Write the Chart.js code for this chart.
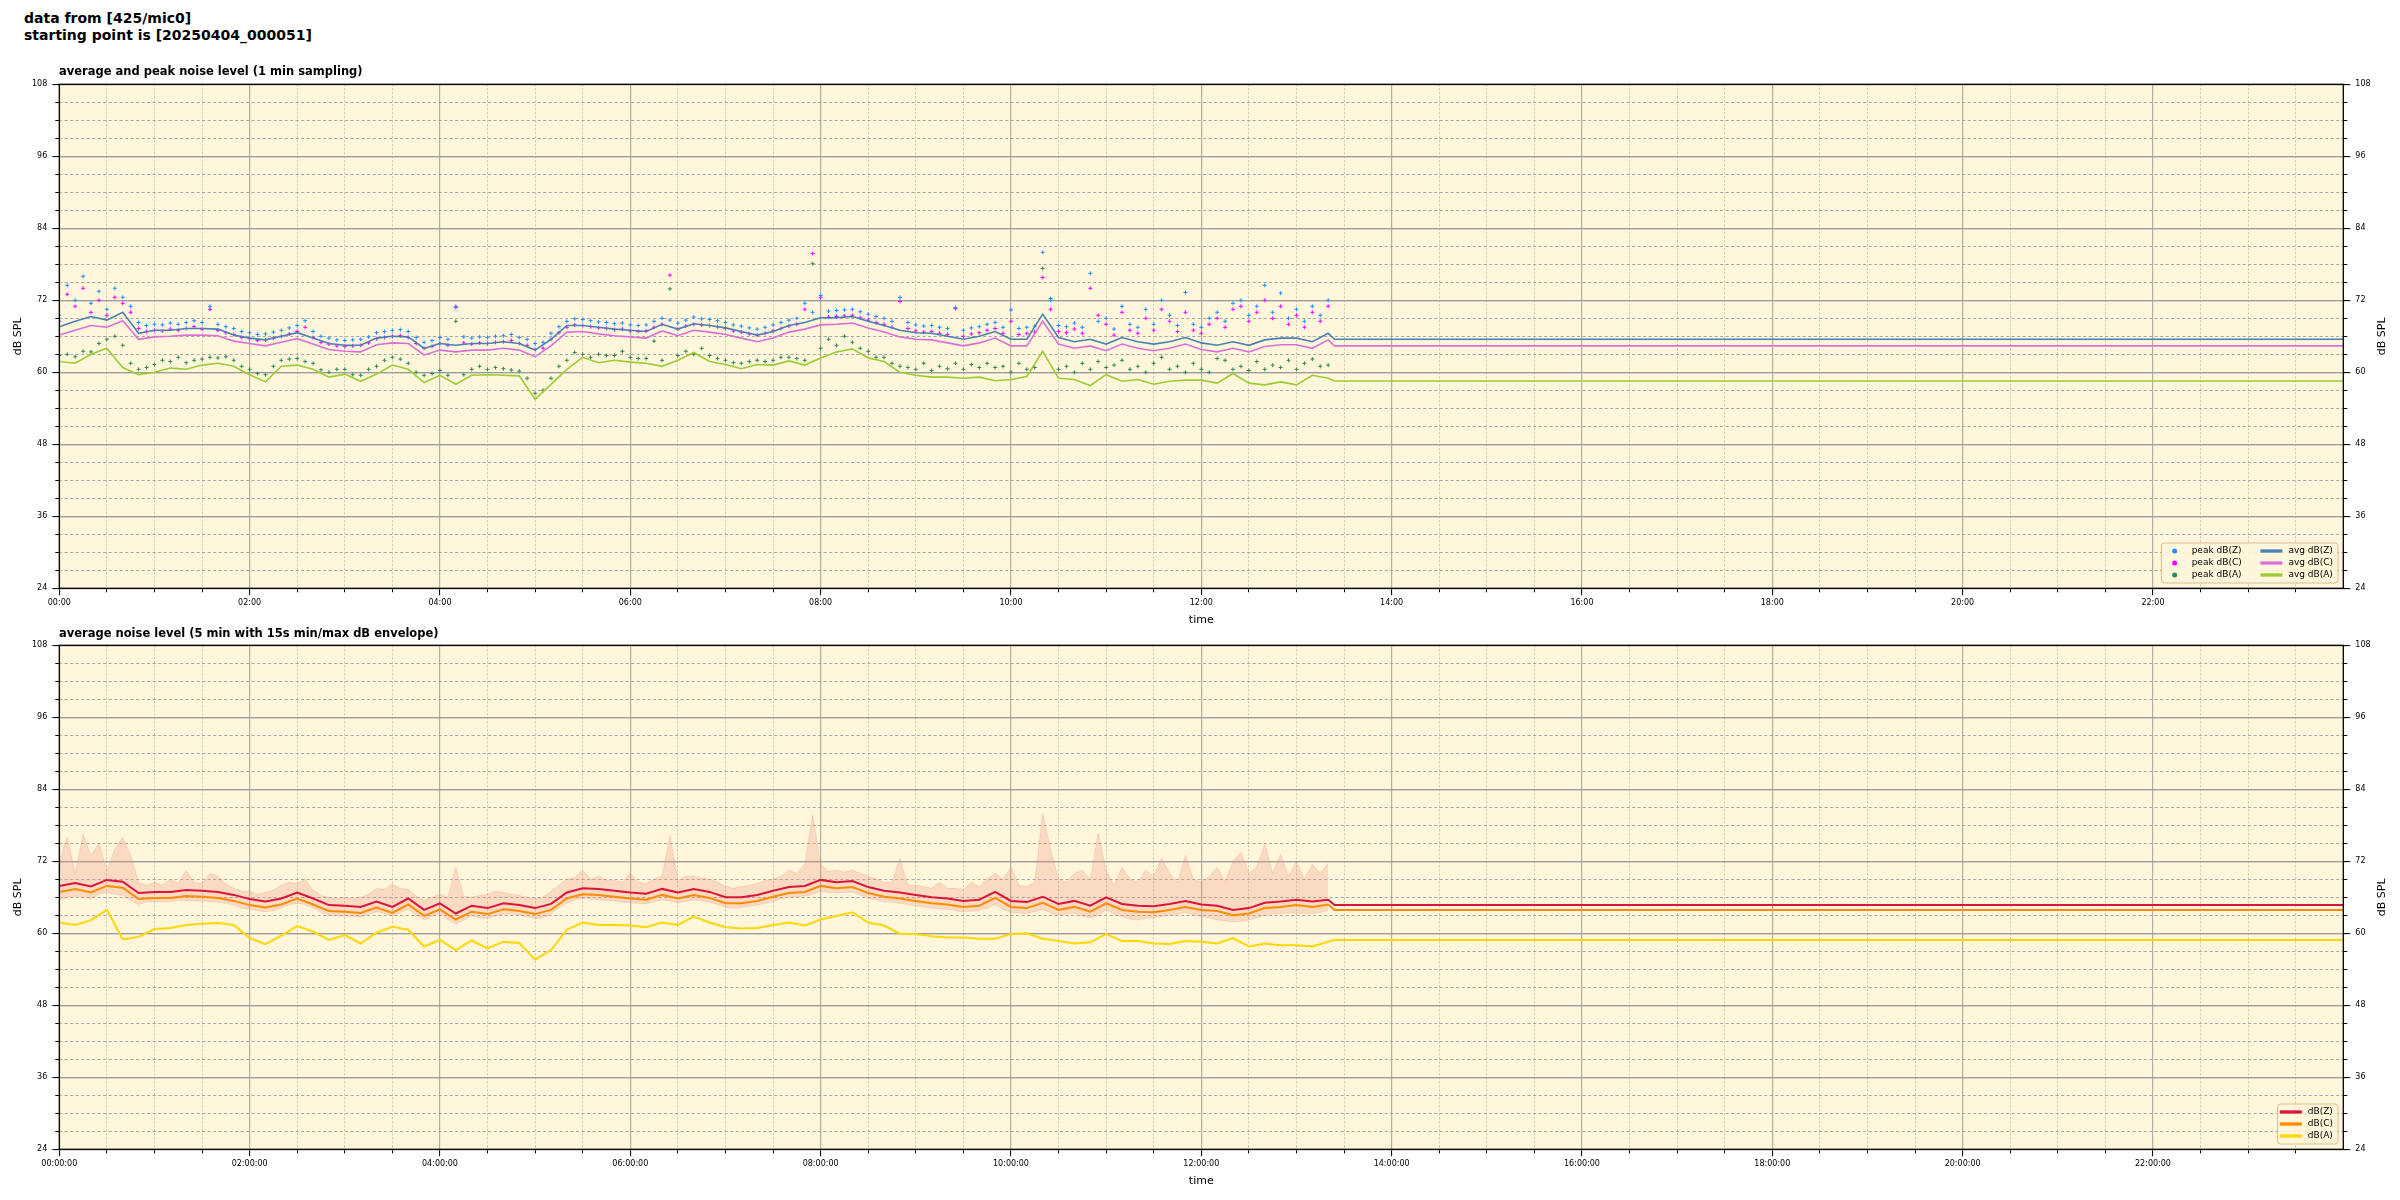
<!DOCTYPE html>
<html>
<head>
<meta charset="utf-8">
<script src="https://cdn.jsdelivr.net/npm/chart.js@4.4.1/dist/chart.umd.min.js"></script>
<style>
  html, body { margin: 0; padding: 0; background: #fff; }
  body { width: 2400px; height: 1200px; position: relative; overflow: hidden; font-family: "DejaVu Sans", sans-serif; }
  canvas { position: absolute; left: 0; }
  .title { position: absolute; font-weight: bold; color: #000; white-space: nowrap; z-index: 2; }
  #sup { left: 24px; top: 10px; font-size: 14px; line-height: 16.8px; }
  .sub { left: 59px; font-size: 11.5px; line-height: 14px; }
</style>
</head>
<body>
<div id="sup" class="title">data from [425/mic0]<br>starting point is [20250404_000051]</div>
<div class="title sub" style="top:64px">average and peak noise level (1 min sampling)</div>
<div class="title sub" style="top:626px">average noise level (5 min with 15s min/max dB envelope)</div>
<canvas id="topChart" width="2400" height="570" style="top:60px"></canvas>
<canvas id="bottomChart" width="2400" height="570" style="top:630px"></canvas>
<script>
"use strict";

// sample spacing in minutes, tail = logger keeps repeating its last value
var avgStep = 10;
var peakStep = 5;
var envStep = 5;
var tailStart = 13.4;
var dayEnd = 24;

var hourTicks = [0, 2, 4, 6, 8, 10, 12, 14, 16, 18, 20, 22];
var dbTicks = [24, 36, 48, 60, 72, 84, 96, 108];

// --- top panel: 1 min averages and peaks ---
var avgZ = [
    67.6, 68.5, 69.3, 68.7, 70.0, 66.5,
    67.0, 67.0, 67.3, 67.3, 67.2, 66.2,
    65.7, 65.4, 66.0, 66.6, 65.7, 64.8,
    64.5, 64.5, 65.7, 66.0, 65.9, 64.0,
    64.8, 64.5, 64.8, 64.8, 65.1, 64.8,
    63.7, 65.5, 67.8, 67.8, 67.5, 67.2,
    67.0, 66.8, 68.0, 67.2, 68.1, 67.8,
    67.4, 66.8, 66.2, 66.8, 67.8, 68.3,
    69.1, 69.1, 69.3, 68.5, 67.8, 67.0,
    66.6, 66.5, 66.0, 65.5, 66.0, 66.8,
    65.5, 65.5, 69.7, 65.8, 65.1, 65.5,
    64.7, 65.8, 65.1, 64.7, 65.1, 65.8,
    64.9, 64.5, 65.1, 64.5, 65.4, 65.7,
    65.7, 65.1, 66.5
];
var avgC = [
    66.2, 67.0, 67.8, 67.5, 68.6, 65.5,
    65.9, 66.0, 66.2, 66.2, 66.1, 65.2,
    64.8, 64.4, 65.0, 65.6, 64.7, 63.8,
    63.5, 63.4, 64.6, 64.9, 64.8, 62.9,
    63.7, 63.4, 63.7, 63.7, 64.0, 63.7,
    62.6, 64.4, 66.7, 66.8, 66.4, 66.1,
    65.9, 65.7, 66.9, 66.1, 67.0, 66.7,
    66.3, 65.7, 65.1, 65.7, 66.7, 67.2,
    67.9, 68.0, 68.2, 67.4, 66.7, 65.9,
    65.5, 65.4, 64.9, 64.4, 64.9, 65.7,
    64.4, 64.4, 68.5, 64.7, 64.0, 64.4,
    63.6, 64.7, 64.0, 63.6, 64.0, 64.7,
    63.8, 63.4, 64.0, 63.4, 64.3, 64.6,
    64.6, 64.0, 65.4
];
var avgA = [
    61.8, 61.5, 63.0, 64.0, 60.8, 59.6,
    60.0, 60.7, 60.5, 61.2, 61.5, 61.0,
    59.6, 58.4, 61.0, 61.2, 60.5, 59.2,
    59.7, 58.5, 59.7, 61.2, 60.5, 58.3,
    59.5, 58.0, 59.5, 59.6, 59.5, 59.4,
    55.5, 58.0, 60.5, 62.5, 61.6, 62.0,
    61.7, 61.5, 61.0, 62.0, 63.3, 61.8,
    61.3, 60.6, 61.3, 61.2, 61.9, 61.2,
    62.4, 63.4, 63.9, 62.4, 61.8, 60.0,
    59.5, 59.2, 59.2, 59.0, 59.2, 58.6,
    58.8, 59.3, 63.5, 59.0, 58.8, 57.8,
    59.6, 58.5, 58.8, 58.0, 58.5, 58.7,
    58.7, 58.2, 59.8, 58.2, 57.9, 58.4,
    57.9, 59.5, 59.0
];
var peakZ = [
    69.5, 74.5, 72.0, 76.0, 71.5, 73.5, 70.5, 74.0, 72.5, 71.0, 68.3, 67.8,
    68.0, 67.9, 68.2, 68.0, 68.3, 68.6, 68.3, 71.0, 68.0, 67.6, 67.3, 66.8,
    66.6, 66.3, 66.4, 66.7, 67.0, 67.4, 67.8, 68.6, 66.8, 66.0, 65.7, 65.4,
    65.3, 65.4, 65.5, 65.9, 66.6, 66.8, 67.0, 67.1, 66.8, 65.8, 65.0, 65.3,
    65.8, 65.5, 71.0, 65.9, 65.7, 65.9, 65.8, 66.0, 66.1, 66.3, 65.8, 65.5,
    64.8, 65.0, 66.5, 67.6, 68.5, 68.9, 68.8, 68.6, 68.4, 68.3, 68.1, 68.2,
    67.9, 67.8, 67.9, 68.5, 69.0, 68.7, 68.2, 68.7, 69.2, 68.9, 68.8, 68.6,
    68.3, 67.9, 67.7, 67.4, 67.2, 67.5, 67.9, 68.3, 68.7, 69.0, 71.5, 70.0,
    72.8, 70.2, 70.3, 70.4, 70.5, 70.1, 69.7, 69.3, 69.0, 68.5, 72.5, 68.3,
    67.9, 67.7, 67.8, 67.5, 67.3, 70.8, 67.0, 67.4, 67.6, 68.0, 68.3, 67.5,
    70.4, 67.3, 67.5, 67.7, 80.0, 72.0, 67.8, 67.6, 68.2, 67.5, 76.5, 68.5,
    69.0, 67.2, 71.0, 68.0, 67.5, 70.5, 68.0, 72.0, 69.5, 67.8, 73.3, 68.0,
    67.5, 69.0, 70.0, 68.5, 71.5, 72.0, 69.5, 71.0, 74.5, 70.0, 73.2, 69.0,
    70.5, 68.5, 71.0, 69.5, 72.0
];
var peakC = [
    68.5, 73.0, 71.0, 74.0, 70.0, 72.0, 69.5, 72.5, 71.5, 70.0, 67.3, 66.8,
    67.0, 66.9, 67.2, 67.0, 67.3, 67.6, 67.2, 70.5, 67.0, 66.6, 66.3, 65.8,
    65.6, 65.3, 65.4, 65.7, 66.0, 66.4, 66.8, 67.5, 65.8, 65.0, 64.7, 64.4,
    64.3, 64.4, 64.5, 64.9, 65.6, 65.8, 66.0, 66.1, 65.8, 64.8, 64.0, 64.3,
    64.8, 64.5, 70.8, 64.9, 64.7, 64.9, 64.8, 65.0, 65.1, 65.3, 64.8, 64.5,
    63.8, 64.0, 65.5, 66.6, 67.5, 67.9, 67.8, 67.6, 67.4, 67.3, 67.1, 67.2,
    66.9, 66.8, 66.9, 67.5, 68.0, 76.2, 67.2, 67.7, 68.0, 67.9, 67.8, 67.6,
    67.3, 66.9, 66.7, 66.4, 66.2, 66.5, 66.9, 67.3, 67.7, 68.0, 70.5, 79.8,
    72.5, 69.2, 69.3, 69.4, 69.5, 69.1, 68.7, 68.3, 68.0, 67.5, 71.8, 67.3,
    66.9, 66.7, 66.8, 66.5, 66.3, 70.6, 66.0, 66.4, 66.6, 67.0, 67.3, 66.5,
    68.5, 66.3, 66.5, 66.7, 75.8, 70.5, 66.8, 66.6, 67.2, 66.5, 74.0, 69.5,
    68.0, 66.2, 70.0, 67.0, 66.5, 69.0, 67.0, 70.5, 68.5, 66.8, 70.0, 67.0,
    66.5, 68.0, 69.0, 67.5, 70.5, 71.0, 68.5, 70.0, 72.0, 69.0, 71.0, 68.0,
    69.5, 67.5, 70.0, 68.5, 71.0
];
var peakA = [
    62.8, 63.0, 62.6, 63.5, 63.4, 64.8, 65.5, 66.0, 64.5, 61.5, 60.5, 60.8,
    61.3, 62.0, 61.8, 62.5, 61.6, 62.0, 62.2, 62.5, 62.4, 62.6, 62.0, 61.0,
    60.5, 59.8, 59.6, 61.0, 62.0, 62.2, 62.3, 61.8, 61.5, 60.4, 60.0, 60.5,
    60.5, 59.6, 59.5, 60.5, 61.0, 62.0, 62.5, 62.2, 61.5, 60.0, 59.5, 59.8,
    60.3, 59.5, 68.5, 59.6, 60.5, 61.0, 60.5, 60.8, 60.6, 60.4, 60.2, 59.0,
    56.5, 57.0, 59.0, 61.0, 62.0, 63.3, 63.0, 62.5, 63.0, 62.8, 62.8, 63.5,
    62.5, 62.3, 62.3, 65.2, 62.0, 73.9, 62.8, 63.5, 63.0, 64.0, 62.8, 62.3,
    62.0, 61.6, 61.5, 61.8, 62.0, 61.8, 62.0, 62.5, 62.5, 62.3, 62.0, 78.1,
    64.0, 65.5, 64.5, 66.0, 65.0, 64.0, 63.5, 62.5, 62.5, 61.5, 61.0, 60.8,
    60.5, 61.5, 60.3, 61.0, 60.6, 61.5, 60.5, 61.3, 60.8, 61.5, 60.8, 61.0,
    60.0, 61.5, 60.5, 60.8, 77.3, 72.3, 60.5, 61.0, 60.0, 61.5, 60.5, 61.8,
    60.8, 61.2, 62.0, 60.5, 61.0, 60.0, 61.5, 62.5, 60.5, 61.0, 60.0, 61.5,
    60.5, 60.0, 62.3, 62.0, 60.5, 61.0, 60.3, 61.8, 60.5, 61.2, 60.8, 62.0,
    60.5, 61.5, 62.2, 61.0, 61.2
];
var tailAvgZ = 65.5;
var tailAvgC = 64.4;
var tailAvgA = 58.55;

// --- bottom panel: 5 min levels and 15 s min/max envelope ---
var lvlZ = [
    67.9, 68.4, 67.8, 68.9, 68.6, 66.7,
    66.9, 66.9, 67.2, 67.1, 66.9, 66.4,
    65.7, 65.3, 65.8, 66.8, 65.8, 64.7,
    64.6, 64.4, 65.3, 64.4, 65.8, 63.9,
    65.0, 63.3, 64.6, 64.2, 65.0, 64.7,
    64.2, 64.9, 66.8, 67.5, 67.4, 67.1,
    66.8, 66.6, 67.4, 66.8, 67.4, 66.9,
    66.0, 66.0, 66.4, 67.1, 67.7, 67.9,
    68.9, 68.5, 68.7, 67.7, 67.1, 66.8,
    66.4, 66.0, 65.8, 65.4, 65.6, 66.9,
    65.4, 65.2, 66.1, 64.9, 65.4, 64.6,
    66.0, 64.9, 64.6, 64.5, 64.9, 65.4,
    64.8, 64.6, 63.9, 64.2, 65.1, 65.3,
    65.6, 65.3, 65.6
];
var lvlC = [
    66.9, 67.4, 66.8, 67.9, 67.6, 65.7,
    65.9, 65.9, 66.2, 66.1, 65.9, 65.4,
    64.7, 64.3, 64.8, 65.8, 64.8, 63.7,
    63.6, 63.4, 64.3, 63.4, 64.8, 62.9,
    64.0, 62.3, 63.6, 63.2, 64.0, 63.7,
    63.2, 63.9, 65.8, 66.5, 66.4, 66.1,
    65.8, 65.6, 66.4, 65.8, 66.4, 65.9,
    65.0, 65.0, 65.4, 66.1, 66.7, 66.9,
    67.9, 67.5, 67.7, 66.7, 66.1, 65.8,
    65.4, 65.0, 64.8, 64.4, 64.6, 65.9,
    64.4, 64.2, 65.1, 63.9, 64.4, 63.6,
    65.0, 63.9, 63.6, 63.5, 63.9, 64.4,
    63.9, 63.7, 63.0, 63.3, 64.2, 64.4,
    64.7, 64.4, 64.8
];
var lvlA = [
    61.8, 61.4, 62.2, 63.9, 59.0, 59.4,
    60.7, 60.9, 61.4, 61.6, 61.7, 61.4,
    59.2, 58.2, 59.6, 61.2, 60.3, 58.9,
    59.7, 58.3, 60.1, 61.1, 60.6, 57.8,
    58.9, 57.2, 58.8, 57.5, 58.6, 58.4,
    55.6, 57.2, 60.6, 61.8, 61.4, 61.4,
    61.3, 61.0, 61.8, 61.4, 62.8, 61.8,
    61.0, 60.8, 60.9, 61.4, 61.8, 61.3,
    62.3, 62.9, 63.5, 61.8, 61.3, 59.9,
    59.9, 59.5, 59.3, 59.3, 59.1, 59.1,
    59.9, 60.0, 59.1, 58.7, 58.3, 58.5,
    59.9, 58.7, 58.7, 58.3, 58.2, 58.7,
    58.6, 58.3, 59.2, 57.8, 58.3, 58.0,
    58.0, 57.8, 58.6
];
var envMax = [
    72, 76, 70, 76.5, 73, 75, 70.5, 74, 76, 73, 68.5, 68,
    68.5, 68, 69, 68.3, 70.5, 68.5, 68.3, 70, 69.5, 68.2, 67.5, 67,
    67, 66.5, 66.8, 67.2, 68, 68.5, 68.3, 69, 67.2, 66.3, 66, 65.8,
    66, 65.8, 66, 66.5, 67.5, 67.3, 68.2, 67.5, 67.3, 66.2, 65.5, 66,
    66.5, 66, 71, 66.2, 66, 66.3, 66.5, 67, 66.8, 66.5, 66.3, 66,
    65.8, 66, 67, 68, 69, 69.3, 70.5, 69, 69.5, 68.8, 68.8, 68.5,
    70, 68.5, 68.3, 69, 69.5, 76.3, 68.8, 69.5, 69.5, 69.2, 69, 68.5,
    67.8, 67.5, 67.8, 68, 68.3, 68.8, 69, 69.5, 70.5, 70, 71.5, 79.8,
    71.5, 70.3, 70.5, 70.2, 70.5, 70, 69.5, 69, 68.5, 68.5, 72.5, 68,
    68, 67.8, 67.5, 68.5, 67.5, 67.5, 67.3, 68.5, 67.8, 69, 70, 69,
    71, 68, 67.8, 68.5, 80.1, 74, 69, 68.5, 70, 70.5, 69, 76.7,
    70.5, 68, 71, 69, 68.5, 70.5, 69.5, 72.5, 70, 68.5, 73, 69,
    68.5, 69.5, 71, 68.5, 72, 73.5, 70, 71, 75, 70, 73.2, 69.5,
    72, 69, 71.5, 70, 71.7
];
var envMin = [
    65.5, 66, 66.2, 66, 65.8, 66.5, 66.8, 66.5, 66.3, 65.5, 64.8, 65.2,
    65.3, 65.2, 65.3, 65.5, 65.5, 65.4, 65.4, 65.3, 65.2, 65, 64.7, 64.2,
    64, 63.8, 63.6, 63.8, 64.2, 64.8, 65, 64.8, 64.2, 63.5, 63, 62.9,
    62.9, 62.8, 62.7, 63.2, 63.6, 63.3, 62.8, 63.5, 64, 63, 62.2, 62.8,
    63.2, 62.3, 61.6, 62.2, 62.9, 62.6, 62.5, 62.9, 63.2, 63.2, 63, 62.8,
    62.5, 62.6, 63.2, 64.3, 65, 65.6, 65.8, 65.7, 65.6, 65.5, 65.4, 65.2,
    65.1, 65, 64.9, 65.3, 65.6, 65.4, 65.1, 65.3, 65.6, 65.4, 65.2, 64.8,
    64.3, 64.2, 64.3, 64.5, 64.7, 65, 65.3, 65.7, 66, 66.1, 66.2, 66.5,
    67, 66.8, 66.7, 66.8, 66.9, 66.4, 65.9, 65.6, 65.3, 65.2, 65, 64.8,
    64.6, 64.4, 64.2, 64.1, 64, 63.8, 63.6, 63.7, 63.8, 64.2, 64.8, 64,
    63.5, 63.4, 63.3, 63.6, 64, 63.4, 63, 63.2, 63.4, 62.9, 62.6, 63,
    63.9, 63.2, 62.8, 62.4, 62.2, 62.5, 62.6, 62.8, 63, 63.2, 63.5, 63.1,
    62.8, 62.6, 62.2, 62.1, 61.9, 62, 62.2, 62.6, 63, 63.2, 63.3, 63.4,
    63.4, 63.3, 63.3, 63.5, 63.8
];
var tailLvlZ = 64.7;
var tailLvlC = 63.9;
var tailLvlA = 58.9;

Chart.defaults.font.family = '"DejaVu Sans", sans-serif';
Chart.defaults.color = '#000';

function series(values, stepMin, tail) {
    var pts = values.map(function(v, i) {
        return {x: i * stepMin / 60, y: v};
    });
    if (tail !== undefined) {
        pts.push({x: tailStart, y: tail});
        pts.push({x: dayEnd, y: tail});
    }
    return pts;
}

function range(from, to, step) {
    var out = [];
    for (var v = from; v <= to + 1e-9; v += step) out.push(Math.round(v * 1000) / 1000);
    return out;
}

function fixTicks(values) {
    return function(scale) {
        scale.ticks = values.map(function(v) { return {value: v}; });
    };
}
function fixWidth(w) { return function(scale) { scale.width = w; }; }
function fixHeight(h) { return function(scale) { scale.height = h; }; }

var tickFont = {size: 8};
var labelFont = {size: 11};
var majorGrid = 'rgba(150,150,150,0.75)';
var minorGridY = 'rgba(150,150,150,0.55)';
var minorGridX = 'rgba(185,175,155,0.7)';
var none = 'rgba(0,0,0,0)';

function minorY(side, weight) {
    return {
        type: 'linear', position: side, min: 24, max: 108, weight: weight,
        afterBuildTicks: fixTicks(range(24, 108, 3)), afterFit: fixWidth(0),
        grid: {
            color: function(c) { return c.tick && c.tick.value % 12 === 0 ? none : minorGridY; },
            lineWidth: 1, tickLength: 4, tickColor: '#000', tickWidth: 1
        },
        border: {display: false, dash: [3, 2.5]},
        ticks: {display: false}
    };
}

// the right hand title is painted by plotFrame so it reads bottom to top like the left one
function majorY(side, width) {
    return {
        type: 'linear', position: side, min: 24, max: 108, weight: 1,
        afterBuildTicks: fixTicks(dbTicks), afterFit: fixWidth(width),
        grid: {color: majorGrid, lineWidth: 1.2, tickLength: 7, tickColor: '#000', tickWidth: 1},
        border: {display: false},
        ticks: {font: tickFont, color: '#000', padding: 5},
        title: {display: side === 'left', text: 'dB SPL', font: labelFont, color: '#000', padding: {top: 11.4, bottom: 0}}
    };
}

function makeScales(timeLabel, xHeight, titlePad) {
    return {
        x: {
            type: 'linear', position: 'bottom', min: 0, max: dayEnd, weight: 1,
            afterBuildTicks: fixTicks(hourTicks), afterFit: fixHeight(xHeight),
            grid: {color: majorGrid, lineWidth: 1.2, tickLength: 7, tickColor: '#000', tickWidth: 1},
            border: {display: false},
            ticks: {font: tickFont, color: '#000', padding: 3, maxRotation: 0, autoSkip: false, callback: timeLabel},
            title: {display: true, text: 'time', font: labelFont, color: '#000', padding: {top: 0, bottom: titlePad}}
        },
        xMinor: {
            type: 'linear', position: 'bottom', min: 0, max: dayEnd, weight: 0,
            afterBuildTicks: fixTicks(range(0, 23.5, 0.5)), afterFit: fixHeight(0),
            grid: {
                color: function(c) { return c.tick && c.tick.value % 2 === 0 ? none : minorGridX; },
                lineWidth: 1, tickLength: 4, tickColor: '#000', tickWidth: 1
            },
            border: {display: false, dash: [2, 2]},
            ticks: {display: false}
        },
        y: majorY('left', 59.3),
        yMinor: minorY('left', 0),
        yRight: majorY('right', 56.7),
        yRightMinor: minorY('right', 0)
    };
}

function hhmm(v) { return (v < 10 ? '0' : '') + v + ':00'; }
function hhmmss(v) { return (v < 10 ? '0' : '') + v + ':00:00'; }

var plotFrame = {
    id: 'plotFrame',
    beforeDraw: function(chart) {
        var a = chart.chartArea, ctx = chart.ctx;
        ctx.save();
        ctx.fillStyle = '#fff6db';
        ctx.fillRect(a.left, a.top, a.right - a.left, a.bottom - a.top);
        ctx.restore();
    },
    afterDraw: function(chart) {
        var a = chart.chartArea, ctx = chart.ctx;
        ctx.save();
        ctx.strokeStyle = '#000';
        ctx.lineWidth = 1.3;
        ctx.strokeRect(a.left, a.top, a.right - a.left, a.bottom - a.top);
        ctx.translate(chart.width - 18, (a.top + a.bottom) / 2);
        ctx.rotate(-Math.PI / 2);
        ctx.font = '11px "DejaVu Sans"';
        ctx.fillStyle = '#000';
        ctx.textAlign = 'center';
        ctx.textBaseline = 'middle';
        ctx.fillText('dB SPL', 0, 0);
        ctx.restore();
    }
};

function roundRect(ctx, x, y, w, h, r) {
    ctx.beginPath();
    ctx.moveTo(x + r, y);
    ctx.arcTo(x + w, y, x + w, y + h, r);
    ctx.arcTo(x + w, y + h, x, y + h, r);
    ctx.arcTo(x, y + h, x, y, r);
    ctx.arcTo(x, y, x + w, y, r);
    ctx.closePath();
}

// matplotlib style legend box in the lower right corner, filled column by column
var boxLegend = {
    id: 'boxLegend',
    afterDraw: function(chart, args, opts) {
        var ctx = chart.ctx, area = chart.chartArea;
        var items = chart.data.datasets.filter(function(d) { return d.legendKind; });
        var rows = opts.rows, cols = Math.ceil(items.length / rows);
        var handle = 22, gap = 6, padL = 2.3, padR = 5, colGap = 18.7, rowH = 12;
        ctx.save();
        ctx.font = '9px "DejaVu Sans"';
        var colW = [];
        for (var c = 0; c < cols; c++) {
            var w = 0;
            for (var r = 0; r < rows; r++) {
                var it = items[c * rows + r];
                if (it) w = Math.max(w, ctx.measureText(it.label).width);
            }
            colW.push(handle + gap + w);
        }
        var boxW = padL + padR + colW.reduce(function(s, v) { return s + v; }, 0) + colGap * (cols - 1);
        var boxH = rows * rowH + 4;
        var x0 = area.right - 5.3 - boxW, y0 = area.bottom - 5.3 - boxH;
        roundRect(ctx, x0, y0, boxW, boxH, 3);
        ctx.fillStyle = 'rgba(255,246,219,0.85)';
        ctx.fill();
        ctx.strokeStyle = 'rgba(215,185,135,0.9)';
        ctx.lineWidth = 1;
        ctx.stroke();
        var cx = x0 + padL;
        for (c = 0; c < cols; c++) {
            for (r = 0; r < rows; r++) {
                it = items[c * rows + r];
                if (!it) continue;
                var cy = y0 + 8 + r * rowH;
                if (it.legendKind === 'point') {
                    ctx.fillStyle = it.pointBorderColor;
                    ctx.beginPath();
                    ctx.arc(cx + handle / 2, cy, 2.5, 0, Math.PI * 2);
                    ctx.fill();
                } else {
                    ctx.strokeStyle = it.borderColor;
                    ctx.lineWidth = 3.3;
                    ctx.beginPath();
                    ctx.moveTo(cx, cy);
                    ctx.lineTo(cx + handle, cy);
                    ctx.stroke();
                }
                ctx.fillStyle = '#000';
                ctx.textBaseline = 'middle';
                ctx.textAlign = 'left';
                ctx.fillText(it.label, cx + handle + gap, cy);
            }
            cx += colW[c] + colGap;
        }
        ctx.restore();
    }
};

function peakSet(label, values, color) {
    return {
        label: label, legendKind: 'point', order: 2,
        data: series(values, peakStep),
        showLine: false, pointStyle: 'cross', pointRadius: 2, pointBorderWidth: 1,
        pointBorderColor: color, pointBackgroundColor: color, borderColor: color
    };
}

function lineSet(label, values, step, tail, color, width, order) {
    return {
        label: label, legendKind: 'line', order: order,
        data: series(values, step, tail),
        borderColor: color, borderWidth: width, pointRadius: 0, tension: 0, fill: false
    };
}

function baseOptions(padTop, scales) {
    return {
        responsive: false, animation: false, devicePixelRatio: 1,
        layout: {padding: {top: padTop, left: 0, right: 0, bottom: 0}},
        plugins: {legend: {display: false}, tooltip: {enabled: false}, boxLegend: {rows: 3}},
        scales: scales
    };
}

new Chart(document.getElementById('topChart'), {
    type: 'line',
    data: {
        datasets: [
            peakSet('peak dB(Z)', peakZ, '#1e90ff'),
            peakSet('peak dB(C)', peakC, '#ff00ff'),
            peakSet('peak dB(A)', peakA, '#2e8b57'),
            lineSet('avg dB(Z)', avgZ, avgStep, tailAvgZ, '#4682b4', 1.6, 1),
            lineSet('avg dB(C)', avgC, avgStep, tailAvgC, '#da70d6', 1.6, 1),
            lineSet('avg dB(A)', avgA, avgStep, tailAvgA, '#9acd32', 1.6, 1)
        ]
    },
    options: baseOptions(24.3, makeScales(hhmm, 41.7, 3.4)),
    plugins: [plotFrame, boxLegend]
});

new Chart(document.getElementById('bottomChart'), {
    type: 'line',
    data: {
        datasets: [
            lineSet('dB(Z)', lvlZ, avgStep, tailLvlZ, '#dc143c', 2, 1),
            lineSet('dB(C)', lvlC, avgStep, tailLvlC, '#ff8c00', 2, 1),
            lineSet('dB(A)', lvlA, avgStep, tailLvlA, '#ffd700', 2, 1),
            {
                label: 'max', order: 3, data: series(envMax, envStep),
                borderColor: 'rgba(235,140,120,0.3)', borderWidth: 0.8, pointRadius: 0, tension: 0,
                backgroundColor: 'rgba(235,140,120,0.26)', fill: '+1'
            },
            {
                label: 'min', order: 3, data: series(envMin, envStep),
                borderColor: 'rgba(235,140,120,0.3)', borderWidth: 0.8, pointRadius: 0, tension: 0, fill: false
            }
        ]
    },
    options: baseOptions(15.3, makeScales(hhmmss, 50.7, 12.4)),
    plugins: [plotFrame, boxLegend]
});
</script>
</body>
</html>
